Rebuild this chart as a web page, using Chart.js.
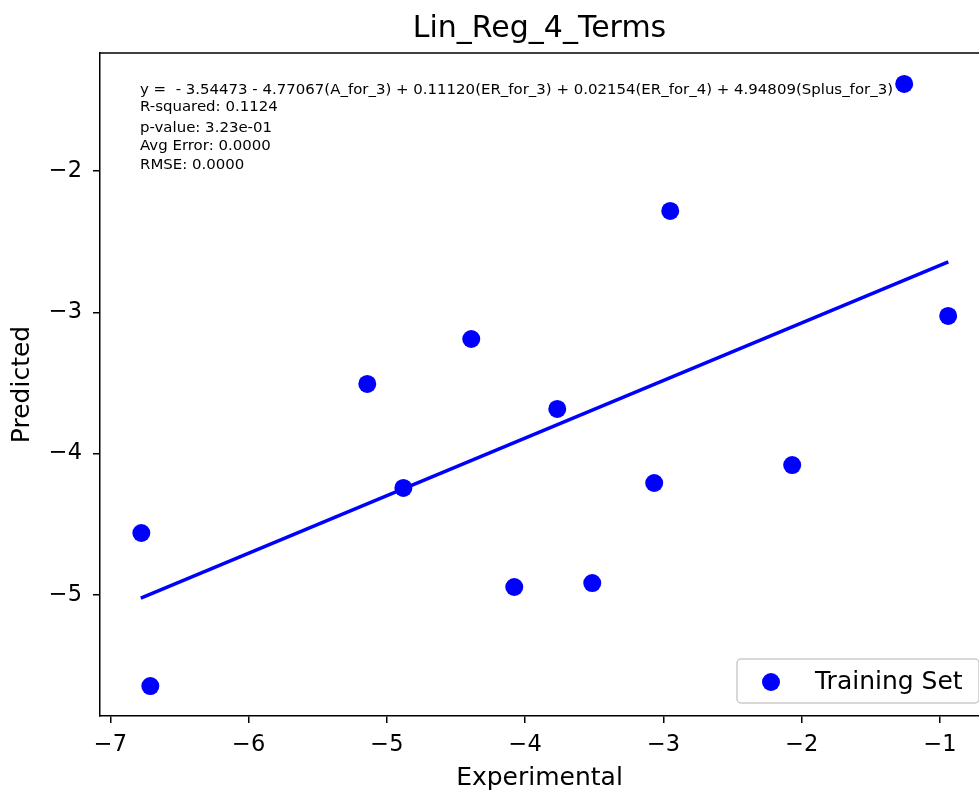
<!DOCTYPE html>
<html>
<head>
<meta charset="utf-8">
<script src="https://cdn.jsdelivr.net/npm/chart.js@4.4.1/dist/chart.umd.min.js"></script>
<style>
  html, body { margin: 0; padding: 0; background: #fff; overflow: hidden; }
  #wrap { width: 979px; height: 793px; position: relative; }
</style>
</head>
<body>
<div id="wrap"><canvas id="regChart"></canvas></div>
<script>
// Training set: experimental (x) vs predicted (y)
const expValues = [-1.259, -2.951, -0.941, -4.390, -5.142, -3.768, -2.069, -4.881, -3.067, -6.776, -4.079, -3.515, -6.711];
const predValues = [-1.384, -2.283, -3.026, -3.189, -3.507, -3.684, -4.081, -4.243, -4.208, -4.562, -4.944, -4.916, -5.645];

// fitted line end points
const fitX = [-6.78, -0.94];
const fitY = [-5.022, -2.644];

const xTicks = [-7, -6, -5, -4, -3, -2, -1];
const yTicks = [-5, -4, -3, -2];

const statLines = [
  'y =  - 3.54473 - 4.77067(A_for_3) + 0.11120(ER_for_3) + 0.02154(ER_for_4) + 4.94809(Splus_for_3)',
  'R-squared: 0.1124',
  'p-value: 3.23e-01',
  'Avg Error: 0.0000',
  'RMSE: 0.0000'
];

const FONT = "'DejaVu Sans', 'Liberation Sans', sans-serif";
const BLUE = '#0000ff';

const fmt = v => (v < 0 ? '\u2212' : '') + Math.abs(v);

// stats text box in the upper left of the axes
const statsText = {
  id: 'statsText',
  afterDatasetsDraw(chart) {
    const { ctx, chartArea } = chart;
    const x0 = chartArea.left + 40;
    const ys = [37, 54, 75, 93, 112];
    ctx.save();
    ctx.font = '13.5px ' + FONT;
    ctx.fillStyle = '#000';
    ctx.textBaseline = 'middle';
    const w = ctx.measureText(statLines[0]).width;
    const sx = 753 / w;
    ctx.translate(x0, chartArea.top);
    ctx.scale(sx, 1);
    statLines.forEach((t, i) => ctx.fillText(t, 0, ys[i]));
    ctx.restore();
  }
};

// matplotlib style legend, lower right
const boxLegend = {
  id: 'boxLegend',
  afterDraw(chart) {
    const { ctx, chartArea } = chart;
    const ds = chart.data.datasets[0];
    const w = 242, h = 44;
    const x = 737, y = chartArea.bottom - 57;
    ctx.save();
    ctx.fillStyle = 'rgba(255,255,255,0.9)';
    ctx.strokeStyle = '#cccccc';
    ctx.lineWidth = 1.5;
    ctx.beginPath();
    ctx.roundRect(x, y, w, h, 4);
    ctx.fill();
    ctx.stroke();
    ctx.fillStyle = BLUE;
    ctx.beginPath();
    ctx.arc(x + 34, y + 23, 9, 0, Math.PI * 2);
    ctx.fill();
    ctx.fillStyle = '#000';
    ctx.font = '25px ' + FONT;
    ctx.textBaseline = 'middle';
    ctx.fillText(ds.label, x + 78, y + 23);
    ctx.restore();
  }
};

// top spine
const topSpine = {
  id: 'topSpine',
  beforeDatasetsDraw(chart) {
    const { ctx, chartArea } = chart;
    ctx.save();
    ctx.strokeStyle = '#000';
    ctx.lineWidth = 1.5;
    ctx.beginPath();
    ctx.moveTo(chartArea.left, chartArea.top);
    ctx.lineTo(chartArea.right + 2, chartArea.top);
    ctx.stroke();
    ctx.restore();
  }
};

Chart.defaults.color = '#000';
Chart.defaults.font.family = FONT;

new Chart(document.getElementById('regChart').getContext('2d'), {
  type: 'scatter',
  data: {
    datasets: [
      {
        label: 'Training Set',
        data: expValues.map((x, i) => ({ x: x, y: predValues[i] })),
        backgroundColor: BLUE,
        borderWidth: 0,
        pointRadius: 9,
        order: 0
      },
      {
        type: 'line',
        label: 'fit',
        data: fitX.map((x, i) => ({ x: x, y: fitY[i] })),
        borderColor: BLUE,
        borderWidth: 3.5,
        pointRadius: 0,
        fill: false,
        order: 1
      }
    ]
  },
  options: {
    animation: false,
    responsive: true,
    maintainAspectRatio: false,
    layout: { padding: 0, autoPadding: false },
    plugins: {
      legend: { display: false },
      tooltip: { enabled: false },
      title: {
        display: true,
        text: 'Lin_Reg_4_Terms',
        fullSize: false,
        color: '#000',
        font: { size: 30, weight: 'normal', family: FONT },
        padding: { top: 11, bottom: 6 }
      }
    },
    scales: {
      x: {
        type: 'linear',
        min: -7.075,
        max: -0.718,
        afterFit: s => { s.height = 77; s.paddingRight = 0; },
        afterBuildTicks: s => { s.ticks = xTicks.map(v => ({ value: v })); },
        border: { display: true, color: '#000', width: 1.5 },
        grid: { drawOnChartArea: false, drawTicks: true, tickLength: 7, color: '#000', lineWidth: 1.5 },
        ticks: { font: { size: 22.5 }, padding: 9, maxRotation: 0, callback: v => fmt(v) },
        title: { display: true, text: 'Experimental', font: { size: 25 }, padding: { top: 0, bottom: 0 } }
      },
      y: {
        type: 'linear',
        min: -5.857,
        max: -1.165,
        afterFit: s => { s.width = 100; },
        afterBuildTicks: s => { s.ticks = yTicks.map(v => ({ value: v })); },
        border: { display: true, color: '#000', width: 1.5 },
        grid: { drawOnChartArea: false, drawTicks: true, tickLength: 7, color: '#000', lineWidth: 1.5 },
        ticks: { font: { size: 22.5 }, padding: 11, callback: v => fmt(v) },
        title: { display: true, text: 'Predicted', font: { size: 25 }, padding: { top: 7, bottom: 0 } }
      }
    }
  },
  plugins: [topSpine, statsText, boxLegend]
});
</script>
</body>
</html>
